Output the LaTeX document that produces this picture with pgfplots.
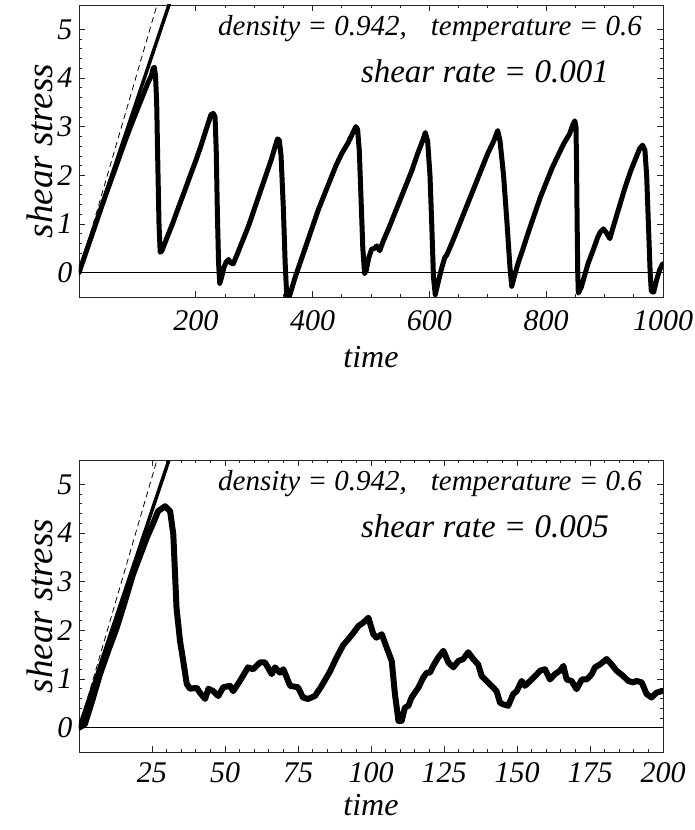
\documentclass[border=0pt]{standalone}
\usepackage{fontspec}
\setmainfont{Liberation Serif}
\usepackage{pgfplots}
\pgfplotsset{compat=1.18}

\pgfplotsset{
  stressframe/.style={
    scale only axis, width=584pt, height=292pt,
    ymin=-0.5, ymax=5.5,
    ytick={0,1,2,3,4,5}, minor y tick num=4,
    tick align=inside,
    major tick length=6pt, minor tick length=3pt,
    axis line style={black!85, line width=0.9pt},
    every tick/.style={black!85, line width=0.7pt},
    /pgf/number format/assume math mode=true,
    /pgf/number format/1000 sep={},
    tick label style={font=\fontsize{30}{30}\selectfont\itshape},
    yticklabel style={xshift=-3pt},
    label style={font=\fontsize{32}{32}\selectfont\itshape},
    ylabel={shear stress},
    ylabel style={at={(axis description cs:-0.046,0.5)}, anchor=base,
      font=\fontsize{37}{37}\selectfont\itshape},
    xlabel={time},
  },
  curve/.style={black, line width=5pt, line join=round, line cap=round},
}

\begin{document}
\begin{tikzpicture}

% shear rate 0.001
\begin{axis}[stressframe, at={(0,0)},
  xmin=0, xmax=1000, xtick={200,400,600,800,1000}, minor x tick num=3,
  xticklabel style={anchor=base, yshift=-33pt},
  xlabel style={at={(axis description cs:0.5,-0.243)}, anchor=base},
]
\addplot[black, line width=1.2pt] coordinates {(0,0) (1000,0)};
\addplot[black, line width=0.8pt, dash pattern=on 6pt off 4pt] coordinates {(0,0) (150,6.18)};
\addplot[black, line width=3.5pt] coordinates {(0,0) (170,6.07)};
\addplot[curve] coordinates {
(0,0) (10,0.35) (20,0.7) (30,1.05) (40,1.4) (50,1.74) (60,2.07) (70,2.41) (80,2.74) (90,3.06)
(100,3.36) (110,3.66) (118,3.9) (124,4.05) (127,4.2) (129,4.22) (131,4.05) (133,3.5) (135,2.2)
(137,1.0) (139,0.42) (142,0.45) (150,0.7) (160,1.0) (170,1.33) (180,1.65) (190,1.98) (200,2.3)
(210,2.65) (218,2.95) (222,3.1) (226,3.25) (230,3.27) (233,3.2) (235,2.5) (237,1.2) (239,0.2)
(241,-0.22) (244,-0.1) (248,0.1) (252,0.22) (256,0.27) (260,0.2) (264,0.18) (270,0.35)
(280,0.65) (290,0.95) (300,1.3) (310,1.65) (320,2.0) (330,2.35) (336,2.6) (340,2.75) (343,2.72)
(346,2.4) (350,1.3) (353,0.2) (356,-0.55) (360,-0.5) (365,-0.3) (370,-0.1) (380,0.25) (390,0.6)
(400,0.95) (410,1.3) (420,1.6) (430,1.9) (440,2.2) (450,2.45) (460,2.65) (468,2.85) (474,3.0)
(477,2.95) (480,2.5) (483,1.5) (486,0.5) (489,-0.02) (492,0.05) (496,0.3) (501,0.48) (506,0.5)
(510,0.55) (515,0.45) (520,0.62) (530,0.9) (540,1.2) (550,1.5) (560,1.8) (570,2.1) (580,2.45)
(588,2.7) (593,2.88) (597,2.7) (601,2.0) (604,1.0) (607,-0.1) (610,-0.45) (614,-0.25) (620,0.05)
(626,0.3) (630,0.37) (640,0.65) (650,0.95) (660,1.25) (670,1.55) (680,1.85) (690,2.15)
(700,2.45) (710,2.7) (717,2.92) (721,2.7) (727,2.0) (733,1.0) (738,0.1) (741,-0.28) (746,-0.05)
(752,0.2) (760,0.48) (770,0.85) (780,1.2) (790,1.55) (800,1.85) (810,2.15) (820,2.4) (830,2.65)
(840,2.85) (846,3.05) (849,3.12) (851,3.0) (852,2.2) (853,1.0) (854,0.0) (855,-0.42) (860,-0.3)
(866,-0.05) (872,0.2) (880,0.45) (888,0.72) (893,0.84) (898,0.9) (903,0.82) (909,0.7) (915,0.95)
(925,1.35) (935,1.75) (945,2.1) (955,2.4) (960,2.55) (965,2.62) (969,2.52) (972,2.0) (975,1.0)
(978,0.0) (980,-0.38) (984,-0.4) (989,-0.15) (994,0.05) (998,0.15) (1000,0.18)
};
\node[anchor=base, font=\fontsize{29}{29}\selectfont\itshape] at (rel axis cs:0.601,0.894)
  {density = 0.942,\hspace{24pt}temperature = 0.6};
\node[anchor=base, font=\fontsize{33}{33}\selectfont\itshape] at (rel axis cs:0.695,0.736)
  {shear rate = 0.001};
\end{axis}

% shear rate 0.005
\begin{axis}[stressframe, at={(0,-455pt)},
  xmin=0, xmax=200, xtick={25,50,75,100,125,150,175,200}, minor x tick num=4,
  xticklabel style={anchor=base, yshift=-30pt},
  xlabel style={at={(axis description cs:0.5,-0.216)}, anchor=base},
]
\addplot[black, line width=1.2pt] coordinates {(0,0) (200,0)};
\addplot[black, line width=0.8pt, dash pattern=on 6pt off 4pt] coordinates {(0,0) (30,6.18)};
\addplot[black, line width=3.5pt] coordinates {(0,0) (34,6.07)};
\addplot[curve, line width=6pt] coordinates {
(0,0) (2,0.07) (4.5,0.55) (7.2,1.1) (10,1.58) (12.9,2.05) (15.5,2.55) (18.5,3.15) (21,3.55)
(23.2,3.9) (25.4,4.2) (27.1,4.45) (29.5,4.55) (31.2,4.45) (32.3,3.97) (33.4,2.46) (34.6,1.78)
(35.7,1.37) (36.9,0.9) (38,0.8) (40.3,0.82) (41.4,0.72) (43.2,0.59) (44.3,0.8) (46,0.75)
(47.7,0.65) (49.4,0.83) (51.7,0.86) (52.8,0.75) (55.1,0.96) (57.9,1.24) (59.6,1.2) (62,1.34)
(63.7,1.34) (66,1.1) (67.1,1.24) (68.8,1.13) (70,1.2) (72.3,0.86) (75,0.83) (76.7,0.62)
(78.4,0.59) (80.8,0.65) (83.1,0.86) (86,1.16) (88.2,1.44) (90.5,1.7) (91.7,1.78) (94,1.95)
(95.7,2.09) (97.4,2.16) (99.1,2.26) (100.8,1.92) (101.9,1.85) (103.7,1.92) (105.4,1.64)
(107.1,1.37) (108.2,0.69) (109.4,0.14) (110.5,0.14) (111.6,0.41) (112.8,0.45) (113.9,0.62)
(116.2,0.82) (117.9,1.03) (119.1,1.13) (120.2,1.13) (121.3,1.27) (123,1.44) (124.8,1.58)
(126.5,1.34) (128.2,1.24) (129.9,1.37) (131.6,1.41) (133.3,1.55) (135,1.41) (136.7,1.3)
(137.9,1.06) (139.6,0.96) (141.9,0.82) (143,0.75) (144.2,0.51) (145.3,0.48) (147,0.45)
(148.7,0.69) (149.9,0.75) (151.6,0.96) (152.7,0.86) (154.5,0.96) (156.2,1.06) (157.9,1.17)
(159.6,1.2) (161.3,0.99) (163,1.1) (164.7,1.17) (165.9,1.27) (167,0.99) (168.7,0.96)
(170.4,0.79) (172.2,0.99) (173.9,0.99) (175.6,1.1) (176.7,1.24) (178.4,1.3) (180.7,1.41)
(182.4,1.3) (184.1,1.17) (186.4,1.06) (188.1,0.96) (189.8,0.93) (191,0.96) (192.7,0.93)
(194.4,0.69) (196.1,0.62) (197.8,0.72) (199.5,0.75) (200,0.76)
};
\node[anchor=base, font=\fontsize{29}{29}\selectfont\itshape] at (rel axis cs:0.601,0.894)
  {density = 0.942,\hspace{24pt}temperature = 0.6};
\node[anchor=base, font=\fontsize{33}{33}\selectfont\itshape] at (rel axis cs:0.695,0.736)
  {shear rate = 0.005};
\end{axis}

\pgfresetboundingbox
\path[use as bounding box] (-79pt,297pt) rectangle (615pt,-533pt);
\end{tikzpicture}
\end{document}
